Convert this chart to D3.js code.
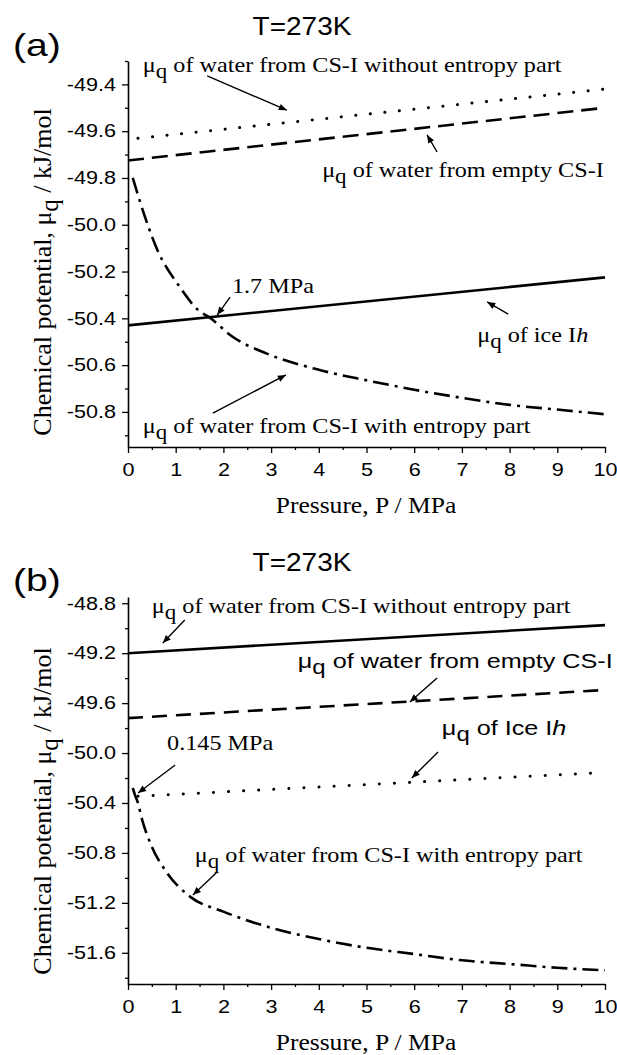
<!DOCTYPE html>
<html><head><meta charset="utf-8">
<script src="https://cdn.jsdelivr.net/npm/d3@7"></script>
<style>body{margin:0;background:#fff}svg{display:block}</style>
</head><body>
<svg id="c" width="617" height="1055"></svg>
<script>
// ---------- data ----------
const pressureTicks = [0,1,2,3,4,5,6,7,8,9,10];
const pressureMinor = [0.5,1.5,2.5,3.5,4.5,5.5,6.5,7.5,8.5,9.5];
const linePressure = [0, 10];

// panel (a)
const aTicks = [-49.4,-49.6,-49.8,-50.0,-50.2,-50.4,-50.6,-50.8];
const aMinor = [-49.3,-49.5,-49.7,-49.9,-50.1,-50.3,-50.5,-50.7,-50.9];
const aWithoutEntropy = [-49.635, -49.42];
const aEmpty = [-49.725, -49.50];
const aIce = [-50.43, -50.225];
const aEntropyP = [0.1,0.25,0.6,1.1,1.5,1.7,2.2,2.9,4,5,6,7,8,9,10];
const aEntropyV = [-49.80,-49.90,-50.10,-50.27,-50.37,-50.395,-50.48,-50.55,-50.62,-50.665,-50.705,-50.74,-50.77,-50.79,-50.81];

// panel (b)
const bTicks = [-48.8,-49.2,-49.6,-50.0,-50.4,-50.8,-51.2,-51.6];
const bMinor = [-49.0,-49.4,-49.8,-50.2,-50.6,-51.0,-51.4,-51.8];
const bWithoutEntropy = [-49.20, -48.975];
const bEmpty = [-49.72, -49.495];
const bIce = [-50.35, -50.155];
const bEntropyP = [0.1,0.15,0.2,0.3,0.5,0.8,1.3,2,3,4,5,6,7,8,9,10];
const bEntropyV = [-50.28,-50.34,-50.39,-50.54,-50.75,-50.95,-51.15,-51.27,-51.40,-51.49,-51.56,-51.61,-51.66,-51.69,-51.72,-51.74];

// annotations (in data units)
const aNotes = [
  {pre:"μ", sub:"q", txt:" of water from CS-I without entropy part", font:"serif", p:0.31, v:-49.347, arrow:[1.66,-49.364,3.33,-49.51]},
  {pre:"μ", sub:"q", txt:" of water from empty CS-I", font:"serif", p:4.07, v:-49.796, arrow:[6.48,-49.689,6.27,-49.616]},
  {pre:"", sub:"", txt:"1.7 MPa", font:"serif", p:2.18, v:-50.292, arrow:[2.14,-50.309,1.87,-50.386]},
  {pre:"μ", sub:"q", txt:" of ice I", ital:"h", font:"serif", p:7.32, v:-50.501, arrow:[7.97,-50.382,7.53,-50.330]},
  {pre:"μ", sub:"q", txt:" of water from CS-I with entropy part", font:"serif", p:0.31, v:-50.89, arrow:[1.78,-50.805,3.31,-50.642]}
];
const bNotes = [
  {pre:"μ", sub:"q", txt:" of water from CS-I without entropy part", font:"serif", p:0.5, v:-48.878, arrow:[1.19,-48.934,0.73,-49.119]},
  {pre:"μ", sub:"q", txt:" of water from empty CS-I", font:"sans", p:3.56, v:-49.319, arrow:[6.48,-49.399,5.91,-49.591]},
  {pre:"μ", sub:"q", txt:" of Ice I", ital:"h", font:"sans", p:6.58, v:-49.856, arrow:[6.5,-49.992,5.95,-50.2]},
  {pre:"", sub:"", txt:"0.145 MPa", font:"serif", p:0.82, v:-49.976, arrow:[0.99,-50.096,0.21,-50.32]},
  {pre:"μ", sub:"q", txt:" of water from CS-I with entropy part", font:"serif", p:1.40, v:-50.873, arrow:[1.87,-50.953,1.36,-51.137]}
];

// ---------- drawing ----------
const SANS = "'Liberation Sans', Arial, Helvetica, sans-serif";
const SERIF = "'Liberation Serif', 'Times New Roman', Times, serif";
const svg = d3.select("#c");
svg.append("defs").append("marker")
  .attr("id","arr").attr("viewBox","0 0 10 10").attr("refX",10).attr("refY",5)
  .attr("markerWidth",11).attr("markerHeight",8).attr("markerUnits","userSpaceOnUse")
  .attr("orient","auto")
  .append("path").attr("d","M0,0.8 L10,5 L0,9.2 z").attr("fill","#000");

function stretchText(g, x, y, sx, family, size, anchor) {
  return g.append("text")
    .attr("transform", `translate(${x},${y}) scale(${sx},1)`)
    .attr("font-family", family).attr("font-size", size)
    .attr("text-anchor", anchor || "start").attr("fill", "#000");
}

function panel(cfg) {
  const g = svg.append("g");
  const x = d3.scaleLinear().domain([0,10]).range([128,605]);
  const y = d3.scaleLinear().domain(cfg.yDomain).range([cfg.bottom, cfg.top]);

  // axes
  const yAx = g.append("g").attr("transform","translate(128,0)")
    .call(d3.axisLeft(y).tickValues(cfg.ticks).tickSize(6).tickPadding(4).tickSizeOuter(0)
      .tickFormat(d => d.toFixed(1)));
  g.append("g").attr("transform","translate(128,0)")
    .call(d3.axisLeft(y).tickValues(cfg.minor).tickSize(3).tickFormat("")).select(".domain").remove();
  const xAx = g.append("g").attr("transform",`translate(0,${cfg.bottom})`)
    .call(d3.axisBottom(x).tickValues(pressureTicks).tickSize(6).tickPadding(10).tickSizeOuter(0)
      .tickFormat(d => String(d)));
  g.append("g").attr("transform",`translate(0,${cfg.bottom})`)
    .call(d3.axisBottom(x).tickValues(pressureMinor).tickSize(3).tickFormat("")).select(".domain").remove();
  g.selectAll(".domain").attr("stroke-width",1.6);
  g.selectAll(".tick line").attr("stroke-width",1.3);
  [yAx, xAx].forEach(a => a.selectAll("text")
    .attr("font-family", SANS).attr("font-size", 18).attr("fill","#000")
    .attr("transform","scale(1.2,1)"));

  // lines
  const line = d3.line().x(d => x(d[0])).y(d => y(d[1]));
  const curve = d3.line().x(d => x(d[0])).y(d => y(d[1])).curve(d3.curveMonotoneX);
  const straight = vals => linePressure.map((p,i) => [p, vals[i]]);
  cfg.series.forEach(s => {
    const pts = s.p ? s.p.map((p,i) => [p, s.v[i]]) : straight(s.v);
    g.append("path").attr("d", (s.p ? curve : line)(pts))
      .attr("fill","none").attr("stroke","#000")
      .attr("stroke-width", s.w).attr("stroke-dasharray", s.dash)
      .attr("stroke-dashoffset", s.offset || 0)
      .attr("stroke-linecap", s.cap || "butt");
  });

  // annotations
  cfg.notes.forEach(n => {
    const serif = n.font === "serif";
    const t = stretchText(g, x(n.p), y(n.v), serif ? 1.1 : 1.2, serif ? SERIF : SANS, serif ? 22 : 21);
    if (n.pre) {
      t.append("tspan").text(n.pre);
      t.append("tspan").attr("dy","0.28em").attr("font-size","0.95em").text(n.sub);
      t.append("tspan").attr("dy","-0.28em").text(n.txt);
    } else {
      t.append("tspan").text(n.txt);
    }
    if (n.ital) t.append("tspan").attr("font-style","italic").text(n.ital);
    const a = n.arrow;
    g.append("line").attr("x1",x(a[0])).attr("y1",y(a[1])).attr("x2",x(a[2])).attr("y2",y(a[3]))
      .attr("stroke","#000").attr("stroke-width",1.4).attr("marker-end","url(#arr)");
  });

  // titles
  stretchText(g, 302, cfg.top - 26, 1.12, SANS, 25, "middle").text("T=273K");
  stretchText(g, 13, cfg.letterY, 1.22, SANS, 32, "start").text(cfg.letter);
  stretchText(g, 366, cfg.bottom + 66, 1.11, SERIF, 23, "middle").text("Pressure, P / MPa");
  const yl = g.append("text")
    .attr("transform", `translate(51,${cfg.ylabelY}) rotate(-90)`)
    .attr("font-family", SERIF).attr("font-size", 26).attr("text-anchor","middle");
  yl.append("tspan").text("Chemical potential, μ");
  yl.append("tspan").attr("dy","0.28em").attr("font-size","0.95em").text("q");
  yl.append("tspan").attr("dy","-0.28em").text(" / kJ/mol");
}

panel({
  yDomain:[-50.95,-49.3], top:61, bottom:447, ticks:aTicks, minor:aMinor,
  letter:"(a)", letterY:56, ylabelY:272, notes:aNotes,
  series:[
    {v:aWithoutEntropy, w:3, dash:"0.1 14.5", cap:"round", offset:-10},
    {v:aEmpty, w:2.6, dash:"16 8"},
    {v:aIce, w:2.6, dash:null},
    {p:aEntropyP, v:aEntropyV, w:2.6, dash:"16 6 3 6"}
  ]
});
panel({
  yDomain:[-51.85,-48.75], top:597, bottom:984, ticks:bTicks, minor:bMinor,
  letter:"(b)", letterY:591, ylabelY:811, notes:bNotes,
  series:[
    {v:bWithoutEntropy, w:2.6, dash:null},
    {v:bEmpty, w:2.6, dash:"15 9"},
    {v:bIce, w:3, dash:"0.1 15", cap:"round", offset:-10},
    {p:bEntropyP, v:bEntropyV, w:2.6, dash:"16 6 3 6"}
  ]
});
</script>
</body></html>
